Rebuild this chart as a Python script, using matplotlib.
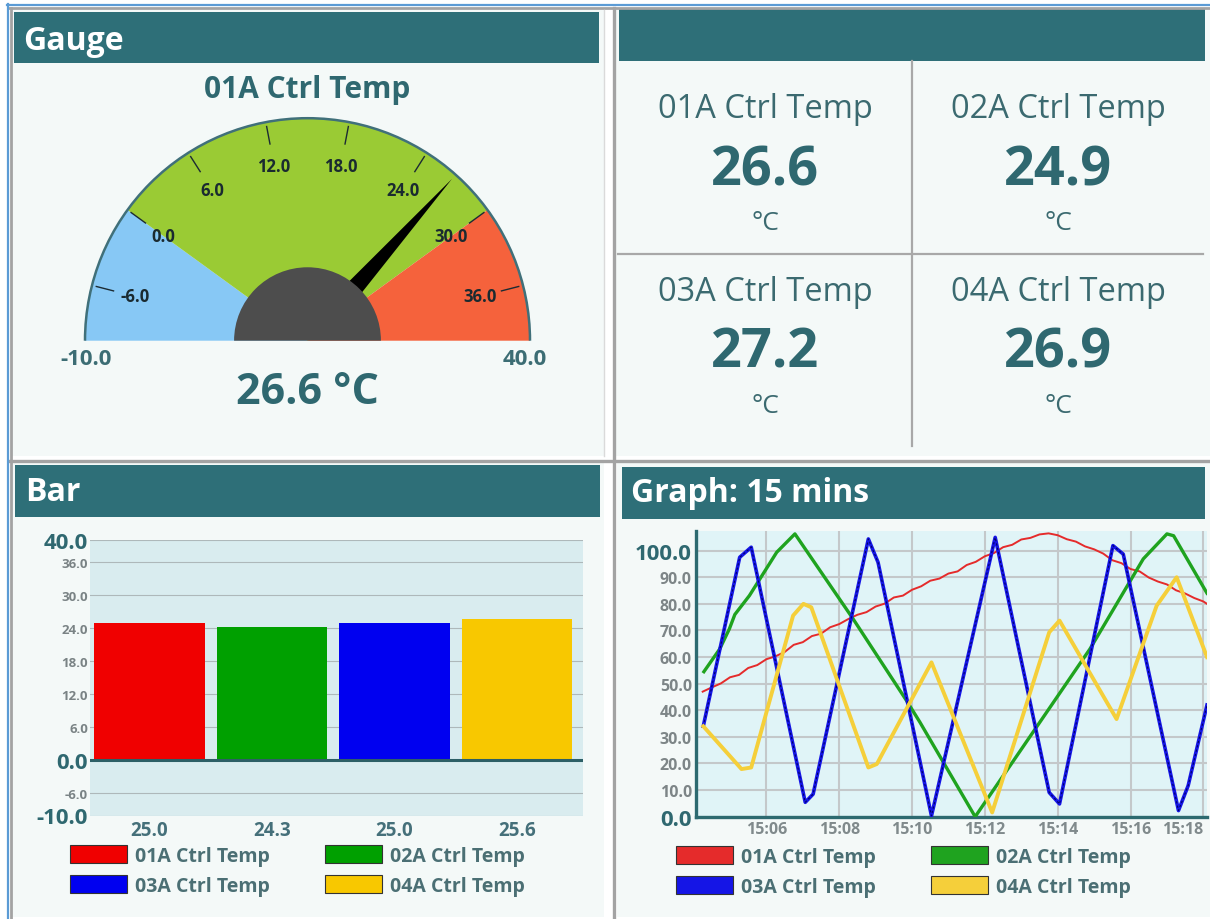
import numpy as np
import pandas as pd
import matplotlib
matplotlib.use('Agg')
import matplotlib.pyplot as plt
import matplotlib.dates as mdates
from matplotlib import font_manager
from matplotlib.patches import Rectangle, Wedge, Polygon, Patch, Arc

# pick a sans family that really has a bold face installed
fam = 'DejaVu Sans'
for cand in ['Noto Sans', 'Open Sans', 'Lato', 'Roboto', 'Liberation Sans']:
    ws = [f.weight for f in font_manager.fontManager.ttflist if f.name == cand]
    if any((w == 'bold') or (isinstance(w, int) and w >= 700) for w in ws):
        fam = cand
        break
plt.rcParams['font.family'] = [fam, 'DejaVu Sans']

W, H = 1210, 920

# ---- data ----
sensor_names = ['01A Ctrl Temp', '02A Ctrl Temp', '03A Ctrl Temp', '04A Ctrl Temp']

gauge_name = '01A Ctrl Temp'
gauge_value = 26.6
gauge_min, gauge_max = -10.0, 40.0
band_edges = [-10.0, 0.0, 30.0, 40.0]
gauge_ticks = [-6, 0, 6, 12, 18, 24, 30, 36]

tile_values = [26.6, 24.9, 27.2, 26.9]
unit = '°C'

bar_values = [25.0, 24.3, 25.0, 25.6]
bar_yticks = [-10, -6, 0, 6, 12, 18, 24, 30, 36, 40]

red_times = ['15:04:15', '15:04:30', '15:04:45', '15:05:00', '15:05:15', '15:05:30', '15:05:45',
             '15:06:00', '15:06:15', '15:06:30', '15:06:45', '15:07:00', '15:07:15', '15:07:30',
             '15:07:45', '15:08:00', '15:08:15', '15:08:30', '15:08:45', '15:09:00', '15:09:15',
             '15:09:30', '15:09:45', '15:10:00', '15:10:15', '15:10:30', '15:10:45', '15:11:00',
             '15:11:15', '15:11:30', '15:11:45', '15:12:00', '15:12:15', '15:12:30', '15:12:45',
             '15:13:00', '15:13:15', '15:13:30', '15:13:45', '15:14:00', '15:14:15', '15:14:30',
             '15:14:45', '15:15:00', '15:15:15', '15:15:30', '15:15:45', '15:16:00', '15:16:15',
             '15:16:30', '15:16:45', '15:17:00', '15:17:15', '15:17:30', '15:17:45', '15:18:00',
             '15:18:06']
red_vals = [47.0, 48.6, 50.1, 52.4, 53.3, 55.9, 57.0, 59.2, 60.3, 61.9, 64.6, 65.6, 67.9, 68.8,
            71.2, 72.4, 74.3, 75.9, 76.9, 79.0, 80.1, 82.4, 83.1, 85.3, 86.6, 88.7, 89.5, 91.4,
            92.2, 94.6, 95.8, 97.9, 99.1, 101.3, 102.2, 104.2, 104.8, 106.1, 106.5, 105.8, 104.3,
            103.4, 101.6, 100.5, 98.9, 96.4, 95.3, 93.1, 92.2, 89.9, 88.4, 87.3, 85.1, 83.9, 82.2,
            80.9, 80.0]

green_times = ['15:04:17', '15:04:43', '15:04:59', '15:05:08', '15:05:32', '15:06:17', '15:06:47',
               '15:08:23', '15:09:51', '15:10:13', '15:11:44', '15:14:53', '15:16:21', '15:17:00',
               '15:17:11', '15:18:06']
green_vals = [54.5, 63.0, 70.6, 76.0, 83.1, 99.4, 106.3, 74.3, 43.6, 35.5, 0.0, 63.0, 96.9, 106.3,
              105.6, 84.0]

blue_times = ['15:04:16', '15:05:16', '15:05:35', '15:07:04', '15:07:17', '15:08:48', '15:09:04',
              '15:10:32', '15:12:17', '15:13:46', '15:14:03', '15:15:31', '15:15:48', '15:17:19',
              '15:17:35', '15:18:06']
blue_vals = [34.0, 97.5, 101.3, 5.4, 8.5, 104.4, 95.6, 0.3, 105.0, 9.1, 4.8, 101.9, 98.7, 2.3,
             11.7, 42.0]

yellow_times = ['15:04:16', '15:05:19', '15:05:35', '15:06:44', '15:07:01', '15:07:14', '15:08:48',
                '15:09:02', '15:10:32', '15:12:12', '15:13:46', '15:14:03', '15:15:37', '15:16:43',
                '15:17:16', '15:18:06']
yellow_vals = [34.0, 17.9, 18.5, 75.6, 80.0, 78.7, 18.5, 19.8, 58.0, 1.6, 69.3, 73.7, 36.7, 79.3,
               90.0, 60.0]

graph_start, graph_end = '15:04:04', '15:18:06'

# ---- styles ----
teal = '#2e6f78'
text_teal = '#2f6870'
body_col = '#f4f9f8'
band_colors = ['#87c8f5', '#9acb34', '#f5623c']
bar_colors = ['#f00000', '#00a000', '#0000f0', '#f8c800']
line_colors = ['#e52b2b', '#1fa31f', '#1515e6', '#f5cf3a']


def tt(s):
    return pd.to_datetime('2024-01-01 ' + pd.Series(s))


fig = plt.figure(figsize=(W / 100, H / 100), dpi=100, facecolor='white')


def px_axes(x0, y0, x1, y1):
    return fig.add_axes([x0 / W, 1 - y1 / H, (x1 - x0) / W, (y1 - y0) / H])


# background / panels in pixel coordinates
bg = fig.add_axes([0, 0, 1, 1])
bg.set_xlim(0, W)
bg.set_ylim(H, 0)
bg.axis('off')

for (x0, y0, x1, y1) in [(12, 11, 604, 457), (616, 11, 1210, 457), (12, 464, 604, 918), (617, 464, 1210, 918)]:
    bg.add_patch(Rectangle((x0, y0), x1 - x0, y1 - y0, color=body_col, lw=0))
for (x0, y0, x1, y1) in [(14, 13, 599, 64), (619, 10, 1205, 62), (15, 466, 600, 518), (622, 468, 1205, 520)]:
    bg.add_patch(Rectangle((x0, y0), x1 - x0, y1 - y0, color=teal, lw=0))

gray = '#a3a3a3'
bg.plot([9, W], [9, 9], color=gray, lw=2)
bg.plot([10.5, 10.5], [9, H], color=gray, lw=2)
bg.plot([613.5, 613.5], [9, H], color=gray, lw=2.4)
bg.plot([9, W], [461.5, 461.5], color=gray, lw=2.4)
bg.plot([603.5, 603.5], [11, 457], color='#dadada', lw=1)
bg.plot([7, W], [5.5, 5.5], color='#5b9bd5', lw=1.6)
bg.plot([7.5, 7.5], [5, H], color='#5b9bd5', lw=1.6)

hdr = dict(color='white', fontsize=23, fontweight='bold', va='center', ha='left')
bg.text(23, 41, 'Gauge', **hdr)
bg.text(25, 493, 'Bar', **hdr)
bg.text(631, 494, 'Graph: 15 mins', **hdr)

# ---- gauge ----
cx, cy, R = 307.5, 341.7, 222.5
gx = px_axes(cx - 250, cy - 250, cx + 250, cy + 50)
gx.set_xlim(-250 / R, 250 / R)
gx.set_ylim(-50 / R, 250 / R)
gx.axis('off')


def ang(v):
    return 180.0 - (v - gauge_min) / (gauge_max - gauge_min) * 180.0


for lo, hi, c in zip(band_edges[:-1], band_edges[1:], band_colors):
    gx.add_patch(Wedge((0, 0), 1.0, ang(hi), ang(lo), color=c, lw=0))
gx.add_patch(Arc((0, 0), 2.0, 2.0, theta1=0, theta2=180, color='#40707a', lw=1.8))

for t in gauge_ticks:
    a = np.radians(ang(t))
    gx.plot([0.9 * np.cos(a), 0.98 * np.cos(a)], [0.9 * np.sin(a), 0.98 * np.sin(a)],
            color='#1c2b33', lw=1)
    gx.text(0.8 * np.cos(a), 0.8 * np.sin(a), f'{t:.1f}', ha='center', va='center',
            fontsize=12, fontweight='bold', color='#1a2a30')

a = np.radians(ang(gauge_value))
perp = a + np.pi / 2
b0 = 0.12
needle = [(0.975 * np.cos(a), 0.975 * np.sin(a)),
          (b0 * np.cos(a) + 0.05 * np.cos(perp), b0 * np.sin(a) + 0.05 * np.sin(perp)),
          (b0 * np.cos(a) - 0.05 * np.cos(perp), b0 * np.sin(a) - 0.05 * np.sin(perp))]
gx.add_patch(Polygon(needle, closed=True, color='black', lw=0, zorder=3))
gx.add_patch(Wedge((0, 0), 0.33, 0, 180, color='#4d4d4d', lw=0, zorder=4))

gx.text(-0.995, -0.078, f'{gauge_min:.1f}', ha='center', va='center', fontsize=16,
        fontweight='bold', color='#3c6d74')
gx.text(0.975, -0.078, f'{gauge_max:.1f}', ha='center', va='center', fontsize=16,
        fontweight='bold', color='#3c6d74')
bg.text(cx, 90, gauge_name, ha='center', va='center', fontsize=21.5, fontweight='bold', color=text_teal)
bg.text(cx, 393, f'{gauge_value:.1f} {unit}', ha='center', va='center', fontsize=31,
        fontweight='bold', color=text_teal)

# ---- value tiles ----
bg.plot([911.5, 911.5], [62, 447], color='#a8a8a8', lw=1.6)
bg.plot([618, 1203], [255, 255], color='#a8a8a8', lw=1.6)
col_x = [765, 1058]
row_y = [108, 291]
for i, (name, val) in enumerate(zip(sensor_names, tile_values)):
    x = col_x[i % 2]
    y = row_y[i // 2]
    bg.text(x, y + 2, name, ha='center', va='center', fontsize=23.5, color='#3b6a70')
    bg.text(x, y + 63, f'{val:.1f}', ha='center', va='center', fontsize=39, fontweight='bold', color=text_teal)
    bg.text(x, y + 116, unit, ha='center', va='center', fontsize=19, color='#3b6a70')

# ---- bar chart ----
bx = px_axes(89.5, 541, 582.5, 816.5)
bx.set_facecolor('#d9ecef')
bx.bar(range(len(bar_values)), bar_values, width=0.9, color=bar_colors, zorder=2)
bx.axhline(0, color='#2d5f66', lw=2.2, zorder=3)
bx.set_ylim(-10, 40)
bx.set_xlim(-0.49, 3.535)
bx.set_yticks(bar_yticks)
bx.set_yticklabels([f'{v:.1f}' for v in bar_yticks])
bx.set_xticks(range(len(bar_values)))
bx.set_xticklabels([f'{v:.1f}' for v in bar_values])
bx.grid(axis='y', color='#aeb8ba', lw=0.8, zorder=0)
bx.set_axisbelow(True)
for s in bx.spines.values():
    s.set_visible(False)
bx.tick_params(axis='y', length=0, pad=1)
bx.tick_params(axis='x', length=0, pad=3, labelsize=13.5, labelcolor='#45707a')
for lab in bx.get_xticklabels():
    lab.set_fontweight('bold')
for lab, v in zip(bx.get_yticklabels(), bar_yticks):
    lab.set_fontweight('bold')
    if v in (-10, 0, 40):
        lab.set_fontsize(16)
        lab.set_color(text_teal)
    else:
        lab.set_fontsize(9.5)
        lab.set_color('#7a8385')

# legends fill column by column, so reorder to read row by row
order = [0, 2, 1, 3]
leg_kw = dict(ncol=2, loc='upper left', frameon=False, borderpad=0, borderaxespad=0,
              handlelength=2.95, handleheight=1.03, handletextpad=0.38, labelspacing=0.5,
              columnspacing=2.85, prop={'size': 14, 'weight': 'bold'}, labelcolor='#4b6f74')
bar_handles = [Patch(facecolor=bar_colors[k], edgecolor='#333333', lw=0.8) for k in order]
fig.legend(bar_handles, [sensor_names[k] for k in order],
           bbox_to_anchor=(70 / W, 1 - 846 / H), **leg_kw)

# ---- line graph ----
lx = px_axes(696, 531.7, 1207, 817.7)
lx.set_facecolor('#e0f4f7')
lx.plot(tt(red_times), red_vals, color=line_colors[0], lw=1.4, zorder=3)
lx.plot(tt(green_times), green_vals, color=line_colors[1], lw=2.4, zorder=3)
lx.plot(tt(blue_times), blue_vals, color=line_colors[2], lw=2.6, zorder=3)
lx.plot(tt(blue_times), blue_vals, color='#00006a', lw=0.8, dashes=(2, 2), zorder=3)
lx.plot(tt(yellow_times), yellow_vals, color=line_colors[3], lw=2.8, zorder=3)
lx.set_ylim(0, 107.5)
lx.set_xlim(tt([graph_start, graph_end]))
lx.set_yticks(range(0, 101, 10))
lx.set_yticklabels([f'{v:.1f}' for v in range(0, 101, 10)])
lx.xaxis.set_major_locator(mdates.MinuteLocator(byminute=range(0, 60, 2)))
lx.xaxis.set_major_formatter(mdates.DateFormatter('%H:%M'))
lx.grid(True, color='#c4c8ca', lw=1.5, zorder=0)
lx.set_axisbelow(True)
lx.spines['top'].set_visible(False)
lx.spines['right'].set_visible(False)
for s in ('left', 'bottom'):
    lx.spines[s].set_color('#2d6a70')
    lx.spines[s].set_linewidth(2.4)
lx.tick_params(axis='y', length=0, pad=3)
lx.tick_params(axis='x', length=0, pad=3, labelsize=11.5, labelcolor='#808a8c')
fig.canvas.draw()
xlabs = [l.get_text() for l in lx.get_xticklabels()]
lx.set_xticks(lx.get_xticks())
lx.set_xticklabels(xlabs)
for k, lab in enumerate(lx.get_xticklabels()):
    lab.set_fontweight('bold')
    lab.set_horizontalalignment('right' if k == len(xlabs) - 1 else 'center')
for lab, v in zip(lx.get_yticklabels(), range(0, 101, 10)):
    lab.set_fontweight('bold')
    if v in (0, 100):
        lab.set_fontsize(16)
        lab.set_color(text_teal)
    else:
        lab.set_fontsize(11.5)
        lab.set_color('#7d8587')

line_handles = [Patch(facecolor=line_colors[k], edgecolor='#333333', lw=0.8) for k in order]
fig.legend(line_handles, [sensor_names[k] for k in order],
           bbox_to_anchor=(676 / W, 1 - 847 / H), **leg_kw)

fig.savefig('out.png', dpi=100, facecolor='white')
